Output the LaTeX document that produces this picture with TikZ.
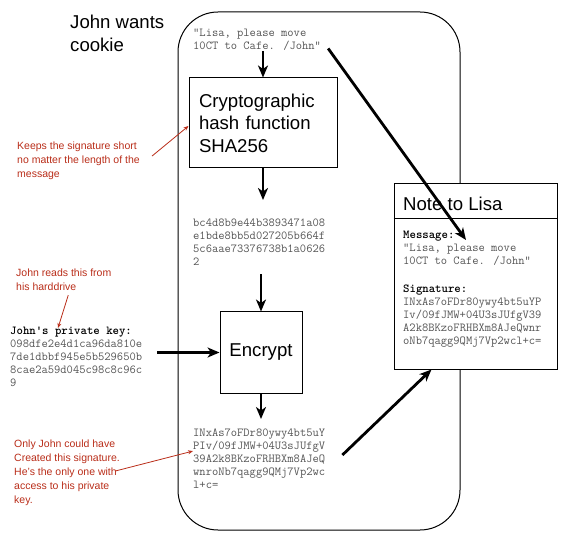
\documentclass[tikz,border=0pt]{standalone}
\usepackage{fontspec}
\setmainfont{Liberation Sans}
\usetikzlibrary{arrows.meta,positioning}
\definecolor{notered}{RGB}{185,45,25}
\definecolor{codegray}{RGB}{85,85,85}
\newcommand{\codefont}{\ttfamily\fontsize{12.2}{13}\selectfont}

\begin{document}
\begin{tikzpicture}[x=1pt, y=-1pt,
  box/.style={draw, line width=1pt, fill=white, inner sep=0pt},
  code/.style={font=\codefont, text=codegray, align=left, anchor=north west, inner sep=0pt},
  big/.style={font=\fontsize{18.6}{22.5}\selectfont},
  remark/.style={font=\fontsize{10.5}{14}\selectfont, text=notered, align=left,
                 anchor=north west, inner sep=0pt},
  arr/.style={-{Stealth[length=12pt, width=10pt, inset=3.5pt]}, line width=2.8pt},
  rarr/.style={-{Stealth[length=5pt, width=4pt]}, line width=0.8pt, color=notered}
]
  \useasboundingbox (0,0) rectangle (565,545);
  % John's side
  \node[draw, line width=1pt, rounded corners=40pt, minimum width=282pt,
        minimum height=518pt] (frame) at (319,271) {};
  \node[big, align=left, anchor=north west, inner sep=0pt] (title) at (70,15) {John wants\\cookie};
  \node[code] (msg) at (193,29) {"Lisa, please move\\10CT to Cafe. /John"};
  \node[box, big, align=left, text width=128pt, inner xsep=10pt, minimum height=90pt]
        (hash) at (263,123) {Cryptographic\\hash function\\SHA256};
  \node[code] (hashtxt) at (193,219)
        {bc4d8b9e44b3893471a08\\e1bde8bb5d027205b664f\\5c6aae73376738b1a0626\\2};
  \node[box, big, minimum width=82pt, minimum height=81pt] (enc) at (261,352.5) {Encrypt};
  \node[code] (keytxt) at (10,327)
        {{\color{black}\bfseries John's private key:}\\098dfe2e4d1ca96da810e\\7de1dbbf945e5b529650b\\8cae2a59d045c98c8c96c\\9};
  \node[code] (sigtxt) at (193,429)
        {INxAs7oFDr80ywy4bt5uY\\PIv/09fJMW+04U3sJUfgV\\39A2k8BKzoFRHBXm8AJeQ\\wnroNb7qagg9QMj7Vp2wc\\l+c=};
  \draw[arr] (msg.south -| hash.north) -- (hash.north);
  \draw[arr, shorten >=19pt] (hash.south) -- (hash.south |- hashtxt.north);
  \draw[arr, shorten <=8pt] (hashtxt.south -| enc.north) -- (enc.north);
  \draw[arr, shorten <=15pt] (keytxt.east |- enc.west) -- (enc.west);
  \draw[arr, shorten >=10pt] (enc.south) -- (enc.south |- sigtxt.north);
  % remarks
  \node[remark] (remark1) at (17,142) {Keeps the signature short\\no matter the length of the\\message};
  \node[remark] (remark2) at (16,269) {John reads this from\\his harddrive};
  \node[remark] (remark3) at (14,440)
        {Only John could have\\Created this signature.\\He's the only one with\\access to his private\\key.};
  \draw[rarr] ([xshift=12pt,yshift=5pt]remark1.east) -- ([yshift=-3pt]hash.west);
  \draw[rarr] ([xshift=4.5pt,yshift=-4pt]remark2.south) -- ([xshift=48pt,yshift=-1pt]keytxt.north west);
  \draw[rarr] ([xshift=-5pt,yshift=2pt]remark3.east) -- ([yshift=8pt]sigtxt.west);
  % Lisa's note
  \node[box, minimum width=163pt, minimum height=185pt] (note) at (475.5,276.5) {};
  \draw[line width=1pt] (note.west |- 0,219) -- (note.east |- 0,219);
  \node[big, anchor=base west, inner sep=0pt] (notetitle) at (403,210.7) {Note to Lisa};
  \node[code] (notebody) at (403,231)
        {{\color{black}\bfseries Message:}\\"Lisa, please move\\10CT to Cafe. /John"\\[15pt]
         {\color{black}\bfseries Signature:}\\INxAs7oFDr80ywy4bt5uYP\\Iv/09fJMW+04U3sJUfgV39\\A2k8BKzoFRHBXm8AJeQwnr\\oNb7qagg9QMj7Vp2wcl+c=};
  \coordinate (msgin) at (466,240);
  \draw[arr] ([xshift=17pt,yshift=4pt]sigtxt.east) -- ([xshift=38pt]note.south west);
  \draw[arr] ([xshift=7pt,yshift=-8.5pt]msg.east) -- (msgin);
\end{tikzpicture}
\end{document}
